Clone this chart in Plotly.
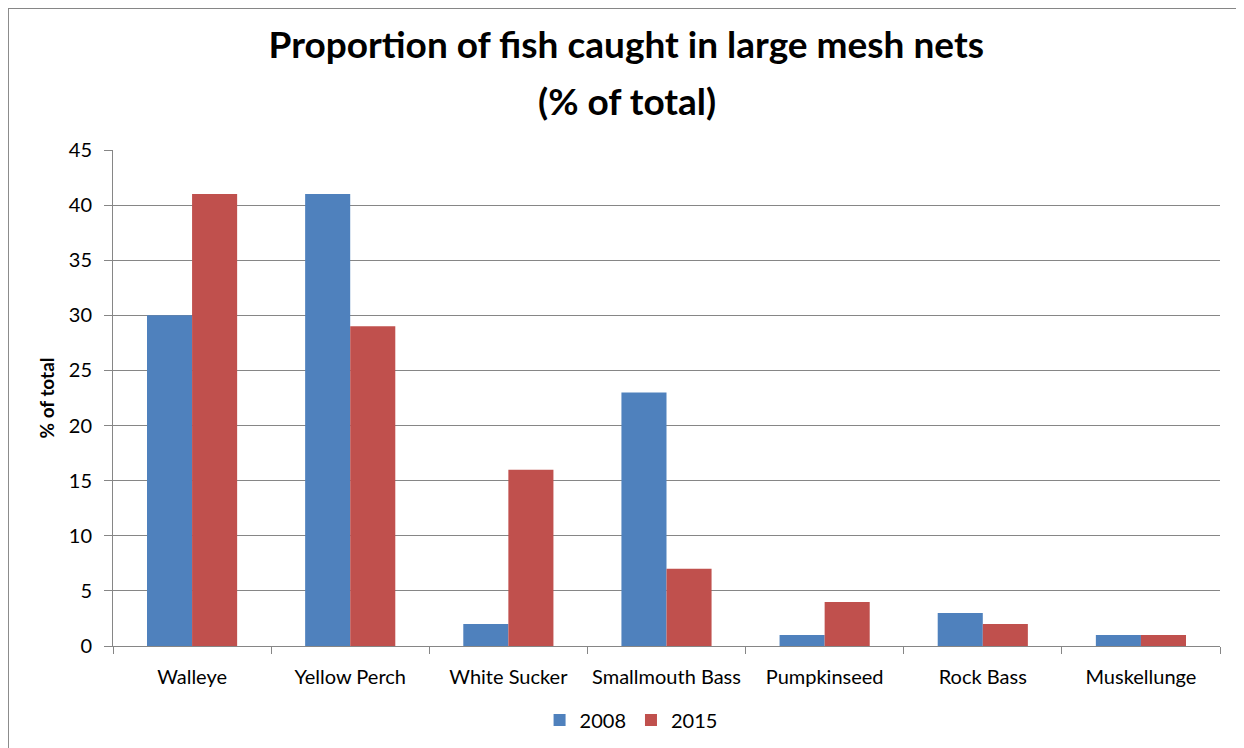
import plotly.graph_objects as go

categories = ["Walleye", "Yellow Perch", "White Sucker", "Smallmouth Bass",
              "Pumpkinseed", "Rock Bass", "Muskellunge"]
values_2008 = [30, 41, 2, 23, 1, 3, 1]
values_2015 = [41, 29, 16, 7, 4, 2, 1]
y_ticks = [0, 5, 10, 15, 20, 25, 30, 35, 40, 45]
title_line1 = "Proportion of fish caught in large mesh nets"
title_line2 = "(% of total)"

FONT = "Lato, Calibri, 'Liberation Sans', sans-serif"

fig = go.Figure()
fig.add_trace(go.Bar(name="2008", x=categories, y=values_2008,
                     marker=dict(color="#4F81BD", line=dict(width=0))))
fig.add_trace(go.Bar(name="2015", x=categories, y=values_2015,
                     marker=dict(color="#C0504D", line=dict(width=0))))

fig.update_layout(
    width=1244, height=748,
    paper_bgcolor="white", plot_bgcolor="white",
    barmode="group", bargap=0.43, bargroupgap=0,
    margin=dict(l=105, r=32, t=142, b=110, autoexpand=False),
    font=dict(family=FONT, size=20, color="#000000"),
    title=dict(text="<b>" + title_line1 + "</b>",
               x=0.497, xanchor="center", y=0.9505, yanchor="middle",
               font=dict(family=FONT, size=37, color="#000000")),
    annotations=[dict(text="<b>" + title_line2 + "</b>", xref="paper", yref="paper",
                      x=0.464, xanchor="center", y=1.099, yanchor="middle", showarrow=False,
                      font=dict(family=FONT, size=37, color="#000000"))],
    legend=dict(orientation="h", x=0.468, xanchor="center", y=-0.149, yanchor="middle",
                font=dict(family=FONT, size=20), traceorder="normal"),
    xaxis=dict(showline=True, linecolor="#868686", linewidth=1,
               ticks="outside", ticklen=7, tickcolor="#868686",
               tickson="boundaries", ticklabelstandoff=13,
               showgrid=False, tickfont=dict(family=FONT, size=20)),
    yaxis=dict(range=[0, 45], tickvals=y_ticks, showline=True, linecolor="#868686",
               ticks="outside", ticklen=8, tickcolor="#868686", ticklabelstandoff=8,
               showgrid=True, gridcolor="#868686", gridwidth=1, zeroline=False,
               tickfont=dict(family=FONT, size=20),
               title=dict(text="<b>% of total</b>", font=dict(family=FONT, size=19), standoff=9)),
    shapes=[dict(type="rect", xref="paper", yref="paper", x0=-0.0949, x1=1.0154, y0=-0.3, y1=1.2863,
                 line=dict(color="#868686", width=2), layer="below")],
)

fig.write_html("out.html")
